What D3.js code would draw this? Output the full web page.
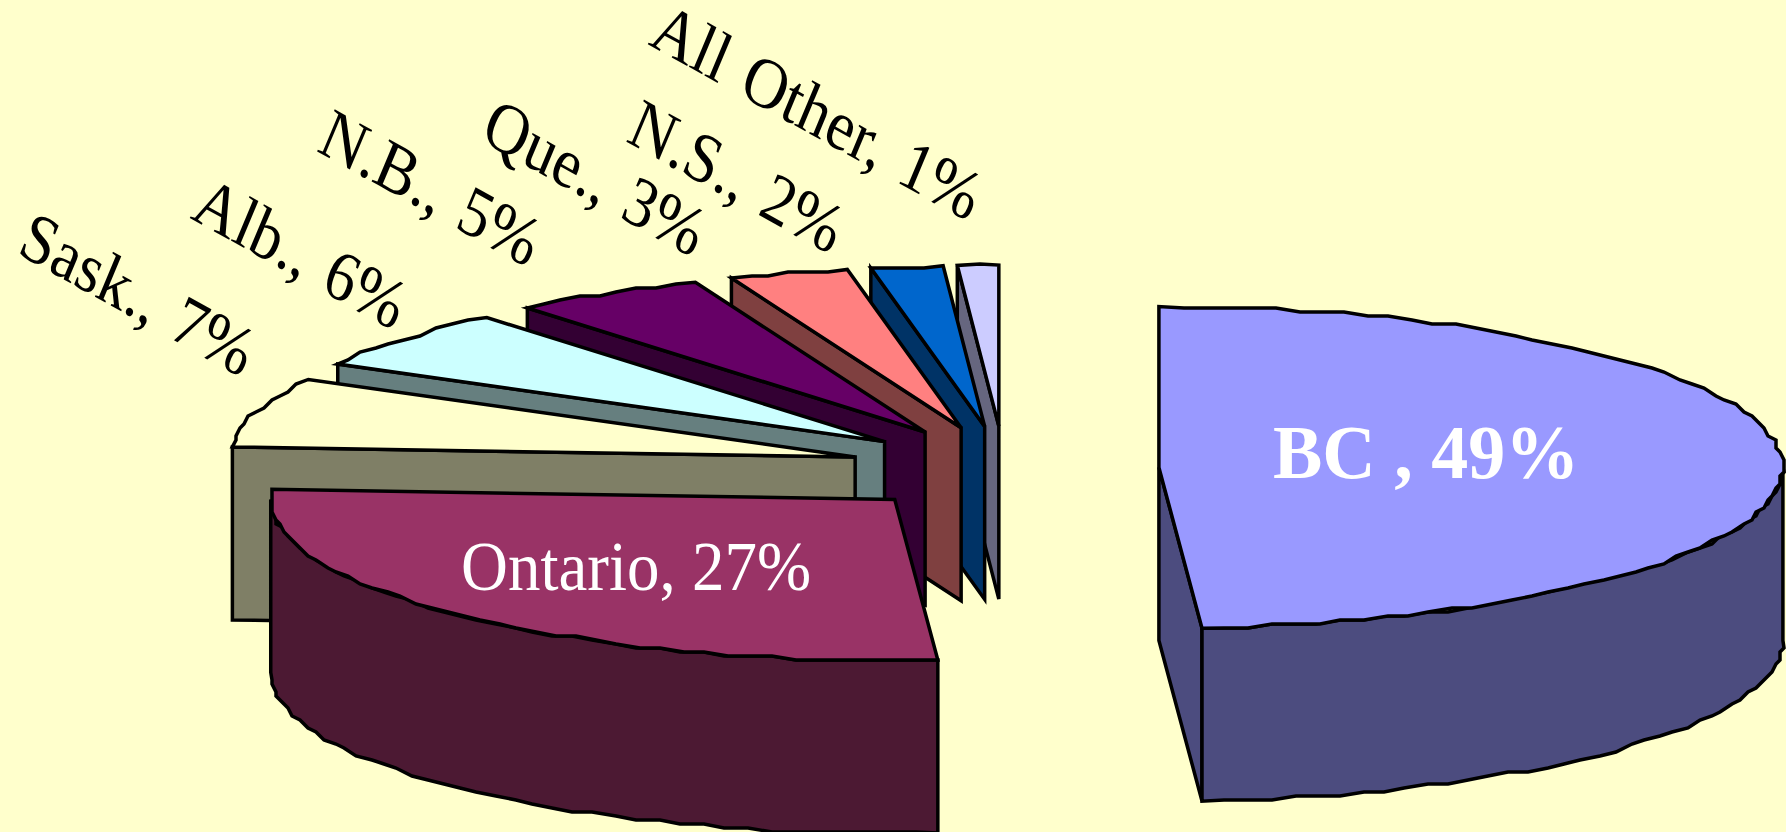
<!DOCTYPE html>
<html>
<head>
<meta charset="utf-8">
<script src="https://cdn.jsdelivr.net/npm/d3@7/dist/d3.min.js"></script>
<style>html,body{margin:0;padding:0;background:#FFFFCC;overflow:hidden}svg{display:block}</style>
</head>
<body>
<svg id="chart" width="1786" height="832"></svg>
<script>
// Data
const categories = ["BC ", "Ontario", "Sask.", "Alb.", "N.B.", "Que.", "N.S.", "All Other"];
const shares = [48.9, 27.1, 7, 6, 5, 3.08, 1.86, 1.06];
const topColors = ["#9999FF", "#993366", "#FFFFCC", "#CCFFFF", "#660066", "#FF8080", "#0066CC", "#CCCCFF"];
const sideColors = ["#4C4C7F", "#4C1933", "#7F7F66", "#667F7F", "#330033", "#7F4040", "#003366", "#66667F"];

// Layout (projection of the tilted pie and label placement, separate from the data)
const W = 1786, H = 832;
const cx = 1004, cy = 469, rx = 624, ry = 161, depth = 173, explode = 155;
const explodeTilt = 0.277, stepDeg = 2.2, gridX = 4, gridY = 4;
const labelPlace = [
  {x: 1273, y: 478, rotate: 0, sy: 1.02, anchor: "start", fill: "#fff", weight: "bold", size: 74, ws: 0},
  {x: 461, y: 590, rotate: 0, sy: 1.08, anchor: "start", fill: "#fff", weight: "normal", size: 65, ws: 0},
  {x: 242, y: 378, rotate: 25.7, sy: 1.15, anchor: "end", fill: "#000", weight: "normal", size: 62, ws: 5},
  {x: 394, y: 331, rotate: 25.7, sy: 1.15, anchor: "end", fill: "#000", weight: "normal", size: 62, ws: 5},
  {x: 528, y: 268, rotate: 25.7, sy: 1.15, anchor: "end", fill: "#000", weight: "normal", size: 62, ws: 5},
  {x: 693, y: 258, rotate: 25.7, sy: 1.15, anchor: "end", fill: "#000", weight: "normal", size: 62, ws: 5},
  {x: 831, y: 255, rotate: 25.7, sy: 1.15, anchor: "end", fill: "#000", weight: "normal", size: 62, ws: 5},
  {x: 969, y: 222, rotate: 25.7, sy: 1.15, anchor: "end", fill: "#000", weight: "normal", size: 62, ws: 5}
];

const svg = d3.select("#chart");
svg.append("rect").attr("width", W).attr("height", H).attr("fill", "#FFFFCC");

const pie = d3.pie().sort(null).startAngle(0).endAngle(2 * Math.PI).value(d => d);
const arcs = pie(shares);
const line = d3.line().curve(d3.curveLinear);

function centre(a) {
  const m = (a.startAngle + a.endAngle) / 2;
  return [cx + explode * Math.sin(m), cy - explode * explodeTilt * Math.cos(m)];
}
function onRim(c, t, dz) {
  return [c[0] + rx * Math.sin(t), c[1] - ry * Math.cos(t) + dz];
}
function jagged(c, t0, t1, dz) {
  // outline is a coarse, pixel-snapped polyline, as in the source graphic
  const n = Math.max(2, Math.ceil(Math.abs(t1 - t0) / (stepDeg * Math.PI / 180)));
  const pts = [onRim(c, t0, dz)];
  for (let i = 1; i < n; i++) {
    const p = onRim(c, t0 + (t1 - t0) * i / n, dz);
    pts.push([Math.round(p[0] / gridX) * gridX, Math.round(p[1] / gridY) * gridY]);
  }
  pts.push(onRim(c, t1, dz));
  return pts;
}

const g = svg.append("g").attr("stroke", "#000").attr("stroke-width", 3.5)
  .attr("stroke-linejoin", "miter").attr("stroke-miterlimit", 4);

d3.range(arcs.length).reverse().forEach(i => {
  const a = arcs[i], c = centre(a), s = a.startAngle, e = a.endAngle;
  const side = sideColors[i];
  const face = t => {
    const p = onRim(c, t, 0);
    g.append("path").attr("fill", side)
      .attr("d", line([c, p, [p[0], p[1] + depth], [c[0], c[1] + depth]]) + "Z");
  };
  if (s >= Math.PI) face(s);
  if (e <= Math.PI) face(e);
  const r0 = Math.max(s, Math.PI / 2), r1 = Math.min(e, 1.5 * Math.PI);
  if (r1 > r0) {
    const top = jagged(c, r0, r1, 0), bottom = jagged(c, r0, r1, depth).reverse();
    g.append("path").attr("fill", side).attr("d", line(top.concat(bottom)) + "Z");
  }
  g.append("path").attr("fill", topColors[i])
    .attr("d", line([c].concat(jagged(c, s, e, 0))) + "Z");
});

// Labels
const labels = categories.map((name, i) => `${name}, ${Math.round(shares[i])}%`);
svg.append("g").selectAll("text").data(labels).join("text")
  .attr("transform", (d, i) => {
    const l = labelPlace[i];
    return `translate(${l.x},${l.y}) scale(1,${l.sy}) rotate(${l.rotate})`;
  })
  .attr("text-anchor", (d, i) => labelPlace[i].anchor)
  .attr("font-family", "'Liberation Serif','Times New Roman',serif")
  .attr("font-size", (d, i) => labelPlace[i].size)
  .attr("font-weight", (d, i) => labelPlace[i].weight)
  .attr("word-spacing", (d, i) => labelPlace[i].ws)
  .attr("fill", (d, i) => labelPlace[i].fill)
  .attr("xml:space", "preserve")
  .text(d => d);
</script>
</body>
</html>
